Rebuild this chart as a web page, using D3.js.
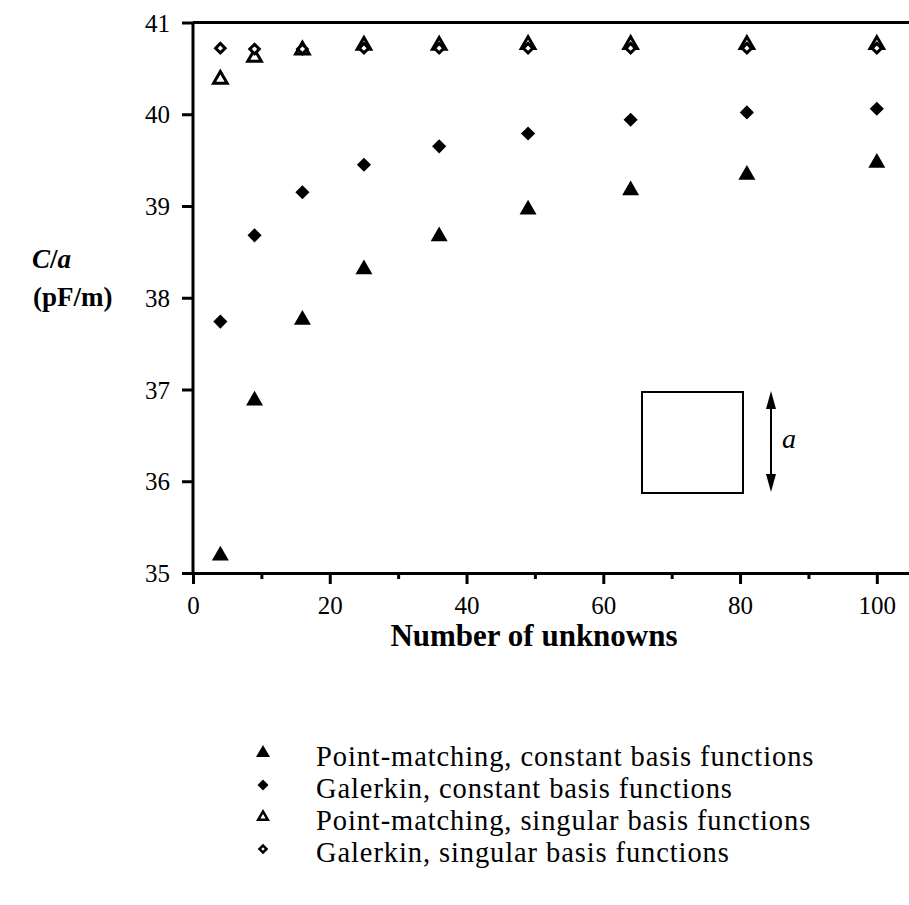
<!DOCTYPE html>
<html><head><meta charset="utf-8">
<script src="https://cdn.jsdelivr.net/npm/d3@7"></script>
<style>body{margin:0;background:#fff}svg{display:block}svg text{font-family:"Liberation Serif",serif !important;fill:#000}</style>
</head><body><svg id="c" width="909" height="905"></svg>
<script>
const unknowns = [4, 9, 16, 25, 36, 49, 64, 81, 100];
const pmConstant = [35.19, 36.88, 37.76, 38.31, 38.67, 38.96, 39.17, 39.34, 39.47];
const galConstant = [37.74, 38.68, 39.15, 39.45, 39.65, 39.79, 39.94, 40.02, 40.06];
const pmSingular = [40.38, 40.62, 40.70, 40.75, 40.75, 40.76, 40.76, 40.76, 40.76];
const galSingular = [40.72, 40.71, 40.71, 40.72, 40.72, 40.72, 40.72, 40.72, 40.72];
const xTicks = [0, 20, 40, 60, 80, 100];
const xMinorTicks = [10, 30, 50, 70, 90];
const yTicks = [35, 36, 37, 38, 39, 40, 41];
const legendLabels = [
  "Point-matching, constant basis functions",
  "Galerkin, constant basis functions",
  "Point-matching, singular basis functions",
  "Galerkin, singular basis functions"
];

const FONT = "Liberation Serif";
const svg = d3.select("#c");
const x = d3.scaleLinear().domain([0, 105]).range([193, 911]);
const y = d3.scaleLinear().domain([35, 41]).range([573, 22.5]);

// axes
const gx = svg.append("g").attr("transform", `translate(0,${y(35)})`)
  .call(d3.axisBottom(x).tickValues(xTicks).tickSize(11).tickPadding(12).tickFormat(d3.format("d")));
svg.append("g").attr("transform", `translate(0,${y(35)})`)
  .call(d3.axisBottom(x).tickValues(xMinorTicks).tickSize(6).tickFormat(""))
  .call(g => g.select(".domain").remove());
const gy = svg.append("g").attr("transform", `translate(${x(0)},0)`)
  .call(d3.axisLeft(y).tickValues(yTicks).tickSize(11).tickPadding(12).tickFormat(d3.format("d")));
svg.selectAll("g").attr("font-family", FONT);
svg.selectAll(".domain").attr("stroke", "#000").attr("stroke-width", 3);
svg.selectAll(".tick line").attr("stroke", "#000").attr("stroke-width", 3);
svg.selectAll(".tick text").attr("font-size", 25).attr("font-family", FONT);
gy.selectAll(".tick text").attr("dy", "0.34em");
gx.selectAll(".tick text").attr("dy", "0.71em");
gy.select(".domain").attr("d", `M0,${y(35)}V${y(41)}`);
// top frame line
svg.append("line").attr("x1", x(0)).attr("x2", x(105)).attr("y1", y(41)).attr("y2", y(41))
  .attr("stroke", "#000").attr("stroke-width", 3);

// symbols
const tri = d3.symbol().type(d3.symbolTriangle);
const sq = d3.symbol().type(d3.symbolSquare);
const kinds = [
  {sym: tri.size(125)(), fill: "#000", sw: 0},
  {sym: sq.size(100)(), fill: "#000", sw: 0, rot: 45},
  {sym: tri.size(80)(), fill: "#fff", sw: 3},
  {sym: sq.size(45)(), fill: "#fff", sw: 3, rot: 45}
];
function drawK(vals, k) {
  svg.append("g").selectAll("path").data(unknowns).join("path")
    .attr("transform", (d, i) => `translate(${x(d)},${y(vals[i])})` + (k.rot ? ` rotate(${k.rot})` : ""))
    .attr("d", k.sym)
    .attr("fill", k.fill).attr("stroke", "#000").attr("stroke-width", k.sw);
}
drawK(pmConstant, kinds[0]);
drawK(galConstant, kinds[1]);
drawK(pmSingular, kinds[2]);
drawK(galSingular, kinds[3]);

// inset square with dimension arrow
svg.append("rect").attr("x", 642).attr("y", 392).attr("width", 101).attr("height", 101)
  .attr("fill", "none").attr("stroke", "#000").attr("stroke-width", 2);
svg.append("line").attr("x1", 771).attr("x2", 771).attr("y1", 400).attr("y2", 483)
  .attr("stroke", "#000").attr("stroke-width", 2);
svg.append("path").attr("d", "M771,391 L766,409 L776,409 Z").attr("fill", "#000");
svg.append("path").attr("d", "M771,492 L766,474 L776,474 Z").attr("fill", "#000");
svg.append("text").attr("x", 782).attr("y", 448).attr("font-size", 28).attr("font-style", "italic").text("a");

// axis titles
svg.append("text").attr("x", 32).attr("y", 268).attr("font-size", 27).attr("font-weight", "bold")
  .html('<tspan font-style="italic">C</tspan>/<tspan font-style="italic">a</tspan>');
svg.append("text").attr("x", 33).attr("y", 306).attr("font-size", 27).attr("font-weight", "bold").text("(pF/m)");
svg.append("text").attr("x", 534).attr("y", 646).attr("text-anchor", "middle")
  .attr("font-size", 31).attr("font-weight", "bold").text("Number of unknowns");

// legend
const legY = [766, 798, 830, 862];
const legSyms = [
  {sym: tri.size(85)(), fill: "#000", sw: 0},
  {sym: sq.size(60)(), fill: "#000", sw: 0, rot: 45},
  {sym: tri.size(40)(), fill: "#fff", sw: 2.5},
  {sym: sq.size(25)(), fill: "#fff", sw: 2.5, rot: 45}
];
const leg = svg.append("g");
leg.selectAll("path").data(legendLabels).join("path")
  .attr("transform", (d, i) => `translate(263,${legY[i] - 13})` + (legSyms[i].rot ? " rotate(45)" : ""))
  .attr("d", (d, i) => legSyms[i].sym)
  .attr("fill", (d, i) => legSyms[i].fill).attr("stroke", "#000")
  .attr("stroke-width", (d, i) => legSyms[i].sw);
leg.selectAll("text").data(legendLabels).join("text")
  .attr("x", 316).attr("y", (d, i) => legY[i])
  .attr("font-size", 28.5).attr("letter-spacing", "0.9px").text(d => d);
</script></body></html>
